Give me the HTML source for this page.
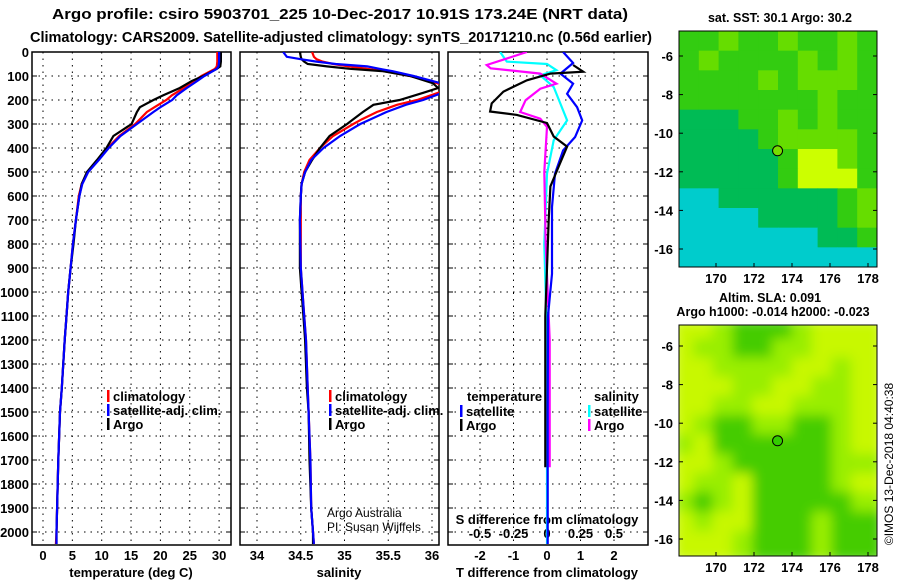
<!DOCTYPE html>
<html><head><meta charset="utf-8"><title>Argo profile</title>
<style>
html,body{margin:0;padding:0;background:#fff;}
svg{display:block;font-family:"Liberation Sans",sans-serif;}
.b{font-weight:bold;font-size:14.5px;}
</style></head>
<body>
<svg id="chart" width="900" height="580" viewBox="0 0 900 580" xmlns="http://www.w3.org/2000/svg">
<defs>
<clipPath id="c1"><rect x="32" y="52" width="199" height="493"/></clipPath>
<clipPath id="c2"><rect x="240" y="52" width="199" height="493"/></clipPath>
<clipPath id="c3"><rect x="448" y="52" width="200" height="493"/></clipPath>
<filter id="blur"><feGaussianBlur stdDeviation="6"/></filter>
<clipPath id="cm2"><rect x="679" y="325" width="198" height="231"/></clipPath>
</defs>
<text class="b" x="52" y="19" textLength="576" lengthAdjust="spacingAndGlyphs">Argo profile: csiro 5903701_225 10-Dec-2017 10.91S 173.24E (NRT data)</text>
<text class="b" x="30" y="42" textLength="622" lengthAdjust="spacingAndGlyphs">Climatology: CARS2009. Satellite-adjusted climatology: synTS_20171210.nc (0.56d earlier)</text>
<text x="780" y="22" text-anchor="middle" font-weight="bold" font-size="12.5">sat. SST: 30.1 Argo: 30.2</text>
<text x="770" y="302" text-anchor="middle" font-weight="bold" font-size="12.5">Altim. SLA: 0.091</text>
<text x="773" y="316" text-anchor="middle" font-weight="bold" font-size="12.5">Argo h1000: -0.014 h2000: -0.023</text>
<text x="893" y="464" font-size="12" transform="rotate(-90 893 464)" text-anchor="middle">©IMOS 13-Dec-2018 04:40:38</text>
<g id="g"></g>
</svg>
<script>
// ---- profile data ----
const tDepth = [0,40,60,70,100,120,150,180,200,230,250,300,350,400,450,500,550,600,700,800,900,1000,1100,1200,1400,1500,1700,1900,2000,2050];
const tArgo = [30.3,30.3,30.2,29.6,27.3,25.4,23.3,20.5,18.8,16.5,16.0,15.1,12.0,10.8,9.2,7.5,6.6,6.2,5.6,5.2,4.7,4.3,4.0,3.7,3.2,2.9,2.6,2.4,2.3,2.3];
const tClim = [29.7,29.7,29.6,29.3,27.0,25.8,24.0,22.0,21.0,19.0,17.7,15.7,13.0,11.0,9.4,7.6,6.6,6.1,5.6,5.1,4.7,4.3,4.0,3.7,3.2,2.9,2.6,2.4,2.3,2.2];
const tSat = [30.0,30.0,29.9,29.6,27.5,26.3,24.5,22.8,22.0,20.0,18.8,16.0,13.2,11.2,9.5,7.7,6.7,6.2,5.6,5.1,4.7,4.3,4.0,3.7,3.2,2.9,2.6,2.4,2.3,2.3];
const sDepth = [0,20,30,40,50,60,70,80,100,130,150,170,200,220,250,280,300,350,400,450,500,550,600,700,900,1000,1100,1200,1400,1500,1700,1900,2000,2050];
const sArgo = [34.49,34.50,34.51,34.54,34.58,34.8,35.06,35.44,35.75,36.01,36.07,35.9,35.63,35.33,35.21,35.1,35.03,34.83,34.72,34.63,34.55,34.51,34.50,34.49,34.49,34.51,34.53,34.55,34.57,34.59,34.60,34.62,34.64,34.64];
const sClim = [34.63,34.65,34.68,34.75,34.87,35.05,35.26,35.45,35.75,36.06,36.2,36.07,35.83,35.6,35.37,35.2,35.1,34.87,34.72,34.6,34.54,34.51,34.50,34.50,34.50,34.52,34.54,34.56,34.58,34.59,34.61,34.62,34.64,34.65];
const sSat = [34.3,34.34,34.5,34.68,34.9,35.26,35.4,35.55,35.79,36.1,36.15,36.12,35.9,35.7,35.48,35.3,35.18,34.95,34.76,34.62,34.55,34.51,34.50,34.49,34.50,34.52,34.54,34.56,34.58,34.59,34.61,34.62,34.64,34.65];
const dtArgoDepth = [54,82,90,118,165,214,248,262,296,352,394,477,560,700,900,1100,1300,1500,1730];
const dtArgo = [0.78,1.08,0.1,-0.6,-1.3,-1.65,-1.7,-0.9,0,0.2,0.6,0.35,0.1,0.05,0,-0.05,-0.05,-0.05,-0.05];
const dtSatDepth = [0,46,90,132,174,230,285,354,410,507,646,924,1100,1500,2050];
const dtSat = [0.48,0.78,0.4,0.78,0.6,0.9,1.05,0.84,0.48,0.24,0.15,0.15,0.03,0.02,0.02];
const dsArgoDepth = [0,54,68,90,132,153,201,250,278,312,500,800,1200,1500,1730];
const dsArgo = [-0.15,-0.45,-0.42,-0.05,0.07,-0.05,-0.16,-0.2,-0.05,0,-0.02,-0.01,0.02,0.02,0.02];
const dsSatDepth = [0,40,50,76,97,146,285,368,507,800,1200,2050];
const dsSat = [-0.35,-0.3,0,0.07,-0.05,0.05,0.15,0.05,0,-0.02,0,0];
const depthTicks = [0,100,200,300,400,500,600,700,800,900,1000,1100,1200,1300,1400,1500,1600,1700,1800,1900,2000];
const tTicks = [0,5,10,15,20,25,30];
const sTicks = [34,34.5,35,35.5,36];
const sTickLabels = ["34","34.5","35","35.5","36"];
const dTTicks = [-2,-1,0,1,2];
const dSTicks = [-0.5,-0.25,0,0.25,0.5];
const dSTickLabels = ["-0.5","-0.25","0","0.25","0.5"];
// ---- map data (coarse colour grid codes) ----
const sstRows = ["GGLGGLGGLG","GLGGGGLGLG","GGGGLGLLLG","GGGGGGGLGG","MMMGGLGLGG","MMMMGLLLLG","MMMMMGYYLG","MMMMMGYYYG","TTMMMMMMGL","TTTTMMMMGL","TTTTTTTMMG","TTTTTTTTTT"];
const slaRows = ["YYLGGGLYYY","YLLGGLLYYY","YYLLLLYYLY","YYYLLYYLLY","YYLLYYLLLY","YLGGLLGGLY","LYGGGGGGLY","YYLGGGGGLL","YLLYGGGGLY","LGLYGGGGGL","YLYYGGGLGG","YYYLGGGLGG"];
const lonTicks = [170,172,174,176,178];
const latTicks = [-6,-8,-10,-12,-14,-16];
const floatLon = 173.24, floatLat = -10.91;

const NS="http://www.w3.org/2000/svg";
const root=document.getElementById('g');
function mk(tag,attrs,parent){const e=document.createElementNS(NS,tag);for(const k in attrs)e.setAttribute(k,attrs[k]);(parent||root).appendChild(e);return e;}
const yD = d => 52 + d*0.24;
const xT = v => 43 + v*5.87;
const xS = v => 257 + (v-34)*87.5;
const xDT = v => 547 + v*33.5;
const xDS = v => 547 + v*134;

function panel(x0,w,name){
  const r=mk('rect',{x:x0,y:52,width:w,height:493,fill:'none',stroke:'#000','stroke-width':1.5});
  
  
  depthTicks.forEach(d=>{
    const l=mk('line',{x1:x0,x2:x0+w,y1:yD(d),y2:yD(d),stroke:'#000','stroke-dasharray':'1.5 5','stroke-width':1});
    
    
    mk('line',{x1:x0,x2:x0+5,y1:yD(d),y2:yD(d),stroke:'#000'});
    mk('line',{x1:x0+w-5,x2:x0+w,y1:yD(d),y2:yD(d),stroke:'#000'});
  });
}
function vgrid(x,name){
  const l=mk('line',{x1:x,x2:x,y1:52,y2:545,stroke:'#000','stroke-dasharray':'1.5 5'});
  
  
}
function txt(x,y,s,anchor,name,extra){
  const t=mk('text',Object.assign({x:x,y:y,'text-anchor':anchor||'middle','font-weight':'bold','font-size':13},extra||{}));
  t.textContent=s;
  
  
  return t;
}
function line(depths,vals,xf,color,clip,name){
  const pts=depths.map((d,i)=>xf(vals[i]).toFixed(1)+','+yD(d).toFixed(1)).join(' ');
  const p=mk('polyline',{points:pts,fill:'none',stroke:color,'stroke-width':2.2,'clip-path':'url(#'+clip+')'});
  
  
}
function legend(x,y,color,label,name){
  mk('rect',{x:x,y:y-9,width:2.5,height:12,fill:color});
  txt(x+6,y+2,label,'start',name);
}

// panel 1 temperature
panel(32,199,'temperature-panel');
tTicks.forEach(v=>{vgrid(xT(v),'temperature');txt(xT(v),560,String(v),'middle','temperature-tick-label');});
depthTicks.forEach(d=>txt(29,yD(d)+5,String(d),'end','depth-tick-label'));
txt(131,577,'temperature (deg C)','middle','temperature-axis-title');
line(tDepth,tClim,xT,'#ff0000','c1','temperature-climatology-line');
line(tDepth,tArgo,xT,'#000000','c1','temperature-argo-line');
line(tDepth,tSat,xT,'#0000ff','c1','temperature-satellite-line');
legend(107,399,'#ff0000','climatology','legend-climatology');
legend(107,413,'#0000ff','satellite-adj. clim.','legend-satellite-adj');
legend(107,427,'#000000','Argo','legend-argo');

// panel 2 salinity
panel(240,199,'salinity-panel');
sTicks.forEach((v,i)=>{vgrid(xS(v),'salinity');txt(xS(v),560,sTickLabels[i],'middle','salinity-tick-label');});
txt(339,577,'salinity','middle','salinity-axis-title');
line(sDepth,sClim,xS,'#ff0000','c2','salinity-climatology-line');
line(sDepth,sArgo,xS,'#000000','c2','salinity-argo-line');
line(sDepth,sSat,xS,'#0000ff','c2','salinity-satellite-line');
legend(329,399,'#ff0000','climatology','legend-climatology-2');
legend(329,413,'#0000ff','satellite-adj. clim.','legend-satellite-adj-2');
legend(329,427,'#000000','Argo','legend-argo-2');
txt(327,517,'Argo Australia','start','credit-argo-australia',{'font-weight':'normal','font-size':12});
txt(327,531,'PI: Susan Wijffels','start','credit-pi',{'font-weight':'normal','font-size':12});

// panel 3 differences
panel(448,200,'difference-panel');
dTTicks.forEach(v=>{vgrid(xDT(v),'difference');txt(xDT(v),560,String(v),'middle','t-diff-tick-label');});
dSTicks.forEach((v,i)=>txt(xDS(v),538,dSTickLabels[i],'middle','s-diff-tick-label'));
txt(547,524,'S difference from climatology','middle','s-diff-axis-title');
txt(547,577,'T difference from climatology','middle','t-diff-axis-title');
line(dsSatDepth,dsSat,xDS,'#00ffff','c3','s-diff-satellite-line');
line(dsArgoDepth,dsArgo,xDS,'#ff00ff','c3','s-diff-argo-line');
line(dtSatDepth,dtSat,xDT,'#0000ff','c3','t-diff-satellite-line');
line(dtArgoDepth,dtArgo,xDT,'#000000','c3','t-diff-argo-line');
txt(467,401,'temperature','start','legend-temperature-header');
legend(460,414,'#0000ff','satellite','legend-t-satellite');
legend(460,428,'#000000','Argo','legend-t-argo');
txt(594,401,'salinity','start','legend-salinity-header');
legend(588,414,'#00ffff','satellite','legend-s-satellite');
legend(588,428,'#ff00ff','Argo','legend-s-argo');

// maps
const sstCol={G:'#33cc11',L:'#66dd00',Y:'#ccff00',M:'#00bb55',T:'#00cccc'};
const slaCol={Y:'#c8f800',L:'#99ee00',G:'#44cc00'};
function mapPanel(rows,cols,y0,y1,name,blur,clip,latY0){
  const x0=679,x1=877, lonX=v=>716+(v-170)*19, latY=v=>latY0+(-6-v)*19.3;
  const g=mk('g',clip?{'clip-path':'url(#'+clip+')'}:{});
  
  
  const inner=mk('g',blur?{filter:'url(#blur)'}:{},g);
  const cw=(x1-x0)/rows[0].length, ch=(y1-y0)/rows.length;
  rows.forEach((r,i)=>{for(let j=0;j<r.length;j++){
    const c=mk('rect',{x:x0+j*cw-(blur?6:0),y:y0+i*ch-(blur?6:0),width:cw+(blur?12:0.5),height:ch+(blur?12:0.5),fill:cols[r[j]]},inner);
    
    
  }});
  const f=mk('rect',{x:x0,y:y0,width:x1-x0,height:y1-y0,fill:'none',stroke:'#000','stroke-width':1});
  
  
  lonTicks.forEach(v=>{mk('line',{x1:lonX(v),x2:lonX(v),y1:y1,y2:y1-4,stroke:'#000'});txt(lonX(v),y1+16,String(v),'middle',name+'-lon-label');});
  latTicks.forEach(v=>{mk('line',{x1:x0,x2:x0+4,y1:latY(v),y2:latY(v),stroke:'#000'});mk('line',{x1:x1,x2:x1-4,y1:latY(v),y2:latY(v),stroke:'#000'});txt(x0-6,latY(v)+5,String(v),'end',name+'-lat-label');});
  const d=mk('circle',{cx:lonX(floatLon),cy:latY(floatLat),r:5,fill:blur?'#33cc00':'#77dd00',stroke:'#000','stroke-width':1});
  
  
}
mapPanel(sstRows,sstCol,31,267,'sst-map',false,null,56);
mapPanel(slaRows,slaCol,325,556,'sla-map',true,'cm2',346);
</script>
</body></html>
